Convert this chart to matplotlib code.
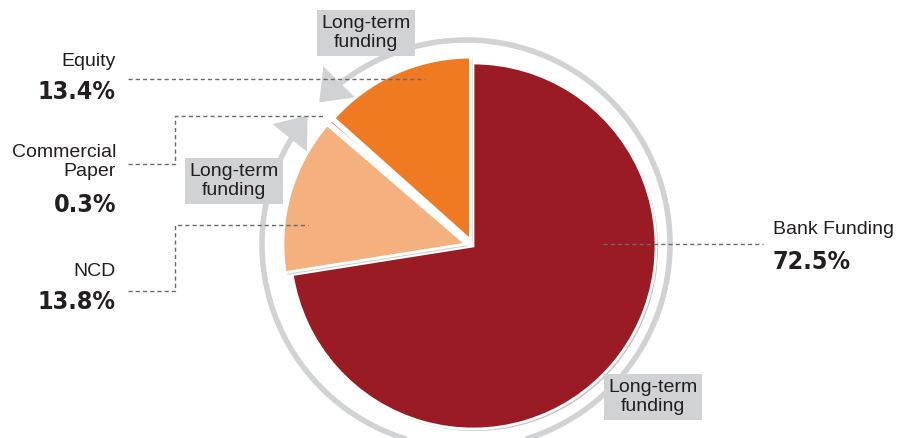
import numpy as np
import matplotlib
matplotlib.use('Agg')
import matplotlib.pyplot as plt
from matplotlib.patches import FancyArrowPatch
from matplotlib.path import Path
import matplotlib.patheffects as pe

# data
names = ['Bank Funding', 'NCD', 'Commercial\nPaper', 'Equity']
shares = [72.5, 13.8, 0.3, 13.4]
slice_colors = ['#9b1b24', '#f4b07e', '#b0574a', '#f07a22']
explode = [0, 0.04, 0.035, 0.035]
note = 'Long-term\nfunding'

TEXT = '#231f20'
GREY = '#d1d2d4'
LEAD = '#6a6a6a'
W, H = 900, 438
R = 183.0          # pie radius in px
CX, CY = 473, 246  # pie centre in px (from top)

fig = plt.figure(figsize=(W / 100, H / 100), dpi=100)

# pie axes, in units of the pie radius
half = 220
pax = fig.add_axes([(CX - half) / W, (H - CY - half) / H, 2 * half / W, 2 * half / H])
wedges, _ = pax.pie(shares, colors=slice_colors, startangle=90, counterclock=False,
                    explode=explode, radius=1,
                    wedgeprops=dict(edgecolor='white', linewidth=2))
for w in wedges:
    w.set_path_effects([pe.SimplePatchShadow(offset=(1.5, -1.5), alpha=0.25),
                        pe.Normal()])
lim = half / R
pax.set_xlim(-lim, lim)
pax.set_ylim(-lim, lim)
pax.set_aspect('equal')
pax.axis('off')

# grey ring with two arrows meeting near the commercial paper slice
rc = np.array([-7 / R, 2 / R])
rr = 204 / R
for a0, a1 in [(-42, 136), (-42, -219)]:
    t = np.radians(np.linspace(a0, a1, 200))
    pts = np.column_stack([rc[0] + rr * np.cos(t), rc[1] + rr * np.sin(t)])
    arr = FancyArrowPatch(path=Path(pts), arrowstyle='-|>,head_length=0.9,head_width=0.7',
                          mutation_scale=17, color=GREY, lw=4, zorder=0,
                          joinstyle='miter', capstyle='butt')
    pax.add_patch(arr)

# overlay axes in pixel coordinates
ax = fig.add_axes([0, 0, 1, 1])
ax.set_xlim(0, W)
ax.set_ylim(H, 0)
ax.axis('off')

name_font = dict(family=['Liberation Sans', 'DejaVu Sans'], fontsize=14, color=TEXT)
pct_font = dict(family=['DejaVu Sans'], fontstretch='condensed', fontsize=18,
                fontweight='bold', color=TEXT)

# left side labels: (name y, pct y)
left_pos = {3: (62, 92), 2: (162, 205), 1: (272, 302)}
for i, (ny, py) in left_pos.items():
    ax.text(116, ny, names[i], ha='right', va='center', linespacing=1.2, **name_font)
    ax.text(116, py, f'{shares[i]:.1f}%', ha='right', va='center', **pct_font)

ax.text(773, 229, names[0], ha='left', va='center', **name_font)
ax.text(773, 262, f'{shares[0]:.1f}%', ha='left', va='center', **pct_font)

# dashed leaders
leaders = [
    ([128, 425], [79, 79]),
    ([128, 175, 175, 325], [164, 164, 116, 116]),
    ([128, 175, 175, 308], [291, 291, 225, 225]),
    ([603, 763], [244, 244]),
]
for xs, ys in leaders:
    ax.plot(xs, ys, color=LEAD, lw=1, dashes=(3, 2.2), zorder=3)

# grey note boxes
for x, y in [(366, 33), (234, 181), (653, 397)]:
    ax.text(x, y, note, ha='center', va='center', linespacing=1.2, zorder=5,
            bbox=dict(boxstyle='square,pad=0.22', fc=GREY, ec='none'), **name_font)

fig.savefig('out.png', dpi=100)
